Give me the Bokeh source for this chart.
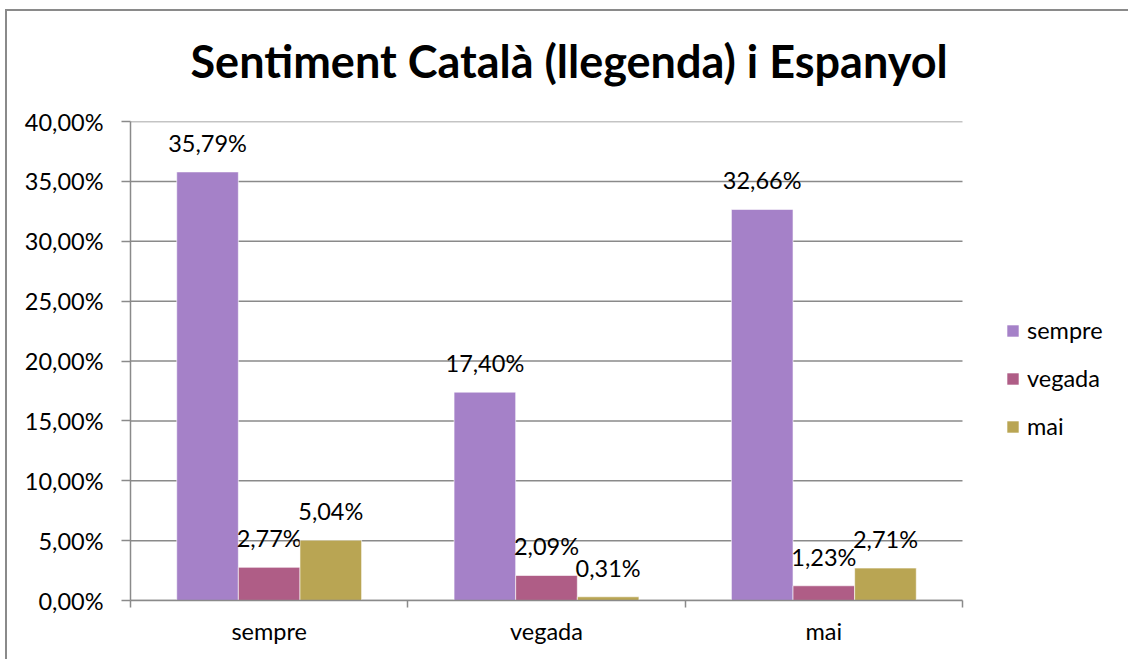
from bokeh.plotting import figure
from bokeh.models import ColumnDataSource, Range1d, FixedTicker, Legend, LegendItem
from bokeh.core.properties import value
from bokeh.embed import file_html
from bokeh.resources import INLINE

categories = ["sempre", "vegada", "mai"]
series_names = ["sempre", "vegada", "mai"]
sempre_vals = [35.79, 17.40, 32.66]
vegada_vals = [2.77, 2.09, 1.23]
mai_vals = [5.04, 0.31, 2.71]
y_ticks = [0, 5, 10, 15, 20, 25, 30, 35, 40]
y_tick_labels = ["0,00%", "5,00%", "10,00%", "15,00%", "20,00%", "25,00%", "30,00%", "35,00%", "40,00%"]
colors = ["#A581C8", "#AF5D86", "#B9A553"]

FONT = "Lato"
TXT = "23.5px"
GRAY = "#8a8a8a"

W, H = 1128, 659
LEFT, TOP, BOTTOM = 130, 121, 59
DATA_RIGHT = 962  # pixel where the category axis ends
n = len(categories)
x_end = n * (W - LEFT) / (DATA_RIGHT - LEFT)

p = figure(width=W, height=H, output_backend="svg", toolbar_location=None,
           x_range=Range1d(0, x_end), y_range=Range1d(0, y_ticks[-1]),
           min_border_left=LEFT, min_border_right=0, min_border_top=TOP, min_border_bottom=BOTTOM,
           title="Sentiment Català (llegenda) i Espanyol")
p.outline_line_color = None
p.background_fill_color = "white"
p.border_fill_alpha = 0
grad = f"linear-gradient({GRAY}, {GRAY})"
p.styles = {
    "background-color": "white",
    "background-image": f"{grad}, {grad}",
    "background-size": "2px 100%, 100% 2px",
    "background-position": "5px 9px, 5px 9px",
    "background-repeat": "no-repeat",
}

p.title.align = "left"
p.title.offset = 60
p.title.vertical_align = "top"
p.title.text_font = FONT
p.title.text_font_style = "bold"
p.title.text_font_size = "45px"
p.title.text_color = "black"
p.title.standoff = 64

# horizontal gridlines over the category span
p.segment(x0=0, x1=n, y0=y_ticks, y1=y_ticks, line_color=GRAY, line_width=1.5)

bar_w = 1 / 4.5
offsets = [-bar_w, 0, bar_w]
all_vals = [sempre_vals, vegada_vals, mai_vals]
renderers = []
for name, vals, off, col in zip(series_names, all_vals, offsets, colors):
    xs = [i + 0.5 + off for i in range(n)]
    src = ColumnDataSource(dict(x=xs, top=vals,
                                label=[f"{v:.2f}".replace(".", ",") + "%" for v in vals]))
    r = p.vbar(x="x", top="top", width=bar_w, bottom=0, source=src,
               fill_color=col, line_color="white", line_width=0.6)
    p.text(x="x", y="top", text="label", source=src, text_align="center",
           text_baseline="alphabetic", y_offset=-29, text_font=value(FONT),
           text_font_size=TXT, text_color="black")
    renderers.append((name, r))

# y axis
p.yaxis.ticker = FixedTicker(ticks=y_ticks, minor_ticks=[])
p.yaxis.major_label_overrides = {t: l for t, l in zip(y_ticks, y_tick_labels)}
p.yaxis.axis_line_color = GRAY
p.yaxis.axis_line_width = 1.5
p.yaxis.major_tick_line_color = GRAY
p.yaxis.major_tick_line_width = 1.5
p.yaxis.major_tick_out = 9
p.yaxis.major_tick_in = 0
p.yaxis.major_label_standoff = 18
p.yaxis.major_label_text_font = FONT
p.yaxis.major_label_text_font_size = TXT
p.yaxis.major_label_text_color = "black"

# x axis
centers = [i + 0.5 for i in range(n)]
p.xaxis.bounds = (0, n)
p.xaxis.ticker = FixedTicker(ticks=centers, minor_ticks=list(range(n + 1)))
p.xaxis.major_label_overrides = {c: nm for c, nm in zip(centers, categories)}
p.xaxis.axis_line_color = GRAY
p.xaxis.axis_line_width = 1.5
p.xaxis.major_tick_line_color = None
p.xaxis.major_tick_out = 0
p.xaxis.major_tick_in = 0
p.xaxis.minor_tick_line_color = GRAY
p.xaxis.minor_tick_line_width = 1.5
p.xaxis.minor_tick_out = 7
p.xaxis.minor_tick_in = 0
p.xaxis.major_label_standoff = 9
p.xaxis.major_label_text_font = FONT
p.xaxis.major_label_text_font_size = TXT
p.xaxis.major_label_text_color = "black"

p.xgrid.grid_line_color = None
p.ygrid.grid_line_color = None

legend = Legend(items=[LegendItem(label=nm, renderers=[r]) for nm, r in renderers],
                location=(875, 160), orientation="vertical")
legend.glyph_width = 15
legend.glyph_height = 15
legend.spacing = 20
legend.label_standoff = 7
legend.padding = 0
legend.margin = 0
legend.border_line_color = None
legend.background_fill_alpha = 0
legend.label_text_font = FONT
legend.label_text_font_size = TXT
legend.label_text_color = "black"
legend.label_text_baseline = "middle"
p.add_layout(legend, "center")

open("out.html", "w").write(file_html(p, INLINE))
